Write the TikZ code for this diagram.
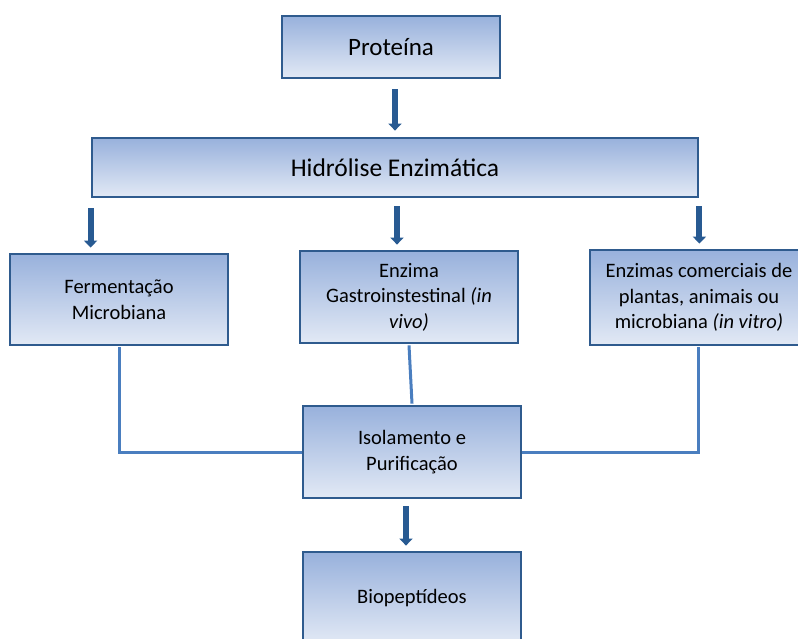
\documentclass[tikz,border=0pt]{standalone}
\usepackage{fontspec}
\setmainfont{Carlito}
\usetikzlibrary{arrows.meta,calc}
\definecolor{boxborder}{HTML}{2F5B8E}
\definecolor{boxtop}{HTML}{98B1DC}
\definecolor{boxbot}{HTML}{E2E9F5}
\definecolor{arrowblue}{HTML}{285A92}
\definecolor{connblue}{HTML}{4A7EBF}
\tikzset{
  box/.style={draw=boxborder, line width=2.8pt, top color=boxtop, bottom color=boxbot,
    align=center, inner sep=2pt, minimum width=218pt, text=black,
    font=\fontsize{20.5}{25.5}\selectfont},
  arr/.style={draw=arrowblue, line width=6pt, -{Triangle[width=13pt,length=7pt]}},
  conn/.style={draw=connblue, line width=3pt},
}
\begin{document}
\begin{tikzpicture}[x=1pt,y=-1pt]
\useasboundingbox (0,0) rectangle (798,639);
\node[box, minimum height=62pt, font=\fontsize{25}{28}\selectfont] (prot) at (391,47) {Proteína};
\node[box, minimum width=606pt, minimum height=59pt, font=\fontsize{25.5}{28}\selectfont] (hid) at (395,167.5) {Hidrólise Enzimática};
\node[box, minimum height=91pt] (ferm) at (119,299.5) {Fermentação\\Microbiana};
\node[box, minimum height=92pt] (gast) at (409,297) {Enzima\\Gastroinstestinal \textit{(in}\\\textit{vivo)}};
\node[box, minimum height=95pt] (com) at (699,297.5) {Enzimas comerciais de\\plantas, animais ou\\microbiana \textit{(in vitro)}};
\node[box, minimum height=92pt] (iso) at (412,452) {Isolamento e\\Purificação};
\node[box, minimum height=92pt] (bio) at (412,598) {Biopeptídeos};

\draw[arr] ([xshift=4pt,yshift=-10pt]prot.south) -- ([xshift=4pt,yshift=6pt]prot.south |- hid.north);
\draw[arr] ([yshift=-10pt]hid.south west) -- ([yshift=5pt]hid.south west |- ferm.north);
\draw[arr] ([xshift=2pt,yshift=-8pt]hid.south) -- ([xshift=2pt,yshift=5pt]hid.south |- gast.north);
\draw[arr] ([yshift=-8pt]hid.south east) -- ([yshift=5pt]hid.south east |- com.north);
\draw[arr] ([xshift=-6pt,yshift=-7pt]iso.south) -- ([xshift=-6pt,yshift=5pt]iso.south |- bio.north);

\draw[conn] ([yshift=-1pt]ferm.south) |- (iso.west);
\draw[conn] ([yshift=-1pt]gast.south) -- ([yshift=1pt]iso.north);
\draw[conn] ([xshift=-1pt,yshift=-1pt]com.south) |- (iso.east);
\end{tikzpicture}
\end{document}
